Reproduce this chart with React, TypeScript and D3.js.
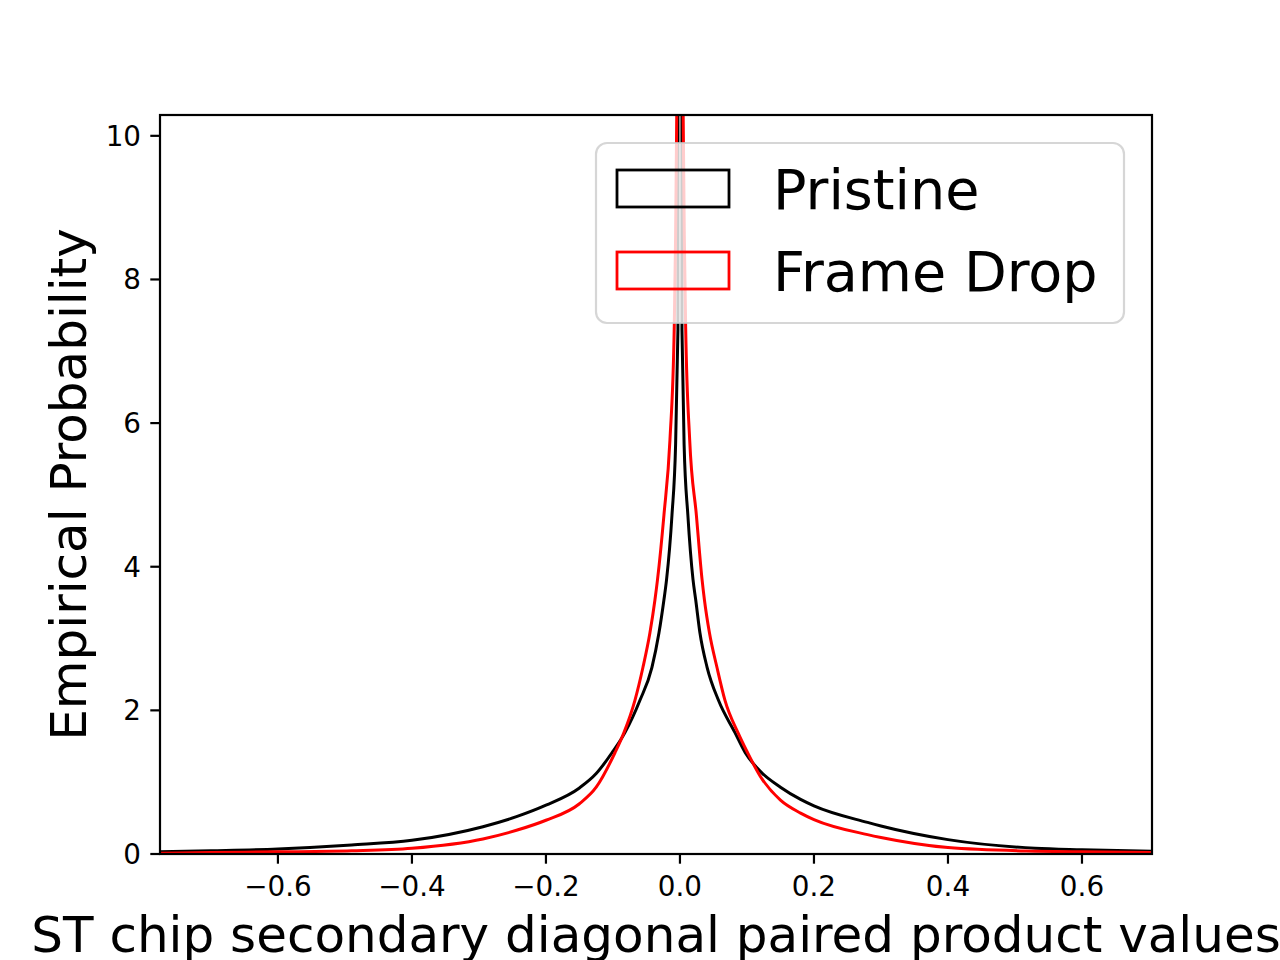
import React from "react";
import * as d3 from "d3";

// ---- Data ----
const xTicks = [-0.6, -0.4, -0.2, 0.0, 0.2, 0.4, 0.6];
const yTicks = [0, 2, 4, 6, 8, 10];
const xDomain = [-0.776, 0.7045];
const yDomain = [0, 10.29];

const seriesNames = ["Pristine", "Frame Drop"];

// Pristine outline (x, density)
const pristineX = [
  -0.776, -0.7, -0.6, -0.49, -0.4, -0.294, -0.244, -0.2, -0.15, -0.125, -0.1015,
  -0.0821, -0.0597, -0.0418, -0.0313, -0.0239, -0.02, -0.0119, -0.0065, -0.003,
  -0.003, 0.003, 0.003, 0.0062, 0.0118, 0.0195, 0.0235, 0.0298, 0.0405, 0.0575,
  0.0821, 0.0975, 0.12, 0.15, 0.18, 0.2, 0.28, 0.3, 0.4, 0.53, 0.6, 0.7045,
];
const pristineY = [
  0.03, 0.045, 0.07, 0.125, 0.19, 0.38, 0.52, 0.68, 0.92, 1.12, 1.41,
  1.69, 2.14, 2.6, 3.08, 3.54, 3.82, 4.72, 5.7, 7.3,
  13, 13, 7.3, 5.7, 4.72, 3.82, 3.54, 3.08, 2.6, 2.14,
  1.69, 1.41, 1.15, 0.93, 0.76, 0.67, 0.44, 0.39, 0.2, 0.08, 0.06, 0.04,
];

// Frame Drop outline (x, density)
const frameDropX = [
  -0.776, -0.7, -0.6, -0.49, -0.4, -0.294, -0.244, -0.2, -0.15, -0.125, -0.097,
  -0.0836, -0.0672, -0.0552, -0.0448, -0.0373, -0.0335, -0.0239, -0.0149, -0.0085,
  -0.0065, -0.0045, -0.0045, 0.0045, 0.0045, 0.0065, 0.0085, 0.0145, 0.0245, 0.033,
  0.0365, 0.044, 0.0552, 0.0672, 0.0866, 0.101, 0.12, 0.15, 0.18, 0.2, 0.28, 0.3,
  0.4, 0.53, 0.6, 0.7045,
];
const frameDropY = [
  0.01, 0.02, 0.03, 0.045, 0.08, 0.21, 0.33, 0.47, 0.7, 0.93, 1.41,
  1.69, 2.14, 2.6, 3.08, 3.54, 3.82, 4.72, 5.77, 7.34,
  8.6, 10.6, 13, 13, 10.6, 8.6, 7.34, 5.77, 4.72, 3.82,
  3.54, 3.08, 2.6, 2.14, 1.69, 1.41, 1.08, 0.75, 0.57, 0.48, 0.27, 0.23,
  0.09, 0.04, 0.03, 0.02,
];

const seriesColors = ["#000000", "#ff0000"];

const W = 1280;
const H = 960;
const M = { left: 160, right: 1152, top: 115, bottom: 854 };

const FONT = "'DejaVu Sans', sans-serif";

function outlinePath(
  pts: [number, number][],
  x: d3.ScaleLinear<number, number>,
  y: d3.ScaleLinear<number, number>
): string {
  // split into runs with strictly increasing x; join runs with straight (vertical) segments
  const runs: [number, number][][] = [];
  let cur: [number, number][] = [];
  pts.forEach((p, i) => {
    if (i > 0 && p[0] === pts[i - 1][0]) {
      runs.push(cur);
      cur = [];
    }
    cur.push(p);
  });
  runs.push(cur);
  const smooth = d3
    .line<[number, number]>()
    .x((d) => x(d[0]))
    .y((d) => y(d[1]))
    .curve(d3.curveMonotoneX);
  return runs
    .map((r, i) => {
      const s = smooth(r) || "";
      return i === 0 ? s : "L" + s.slice(1);
    })
    .join("");
}

export default function App() {
  const x = d3.scaleLinear().domain(xDomain).range([M.left, M.right]);
  const y = d3.scaleLinear().domain(yDomain).range([M.bottom, M.top]);

  const pristine: [number, number][] = pristineX.map((v, i) => [v, pristineY[i]]);
  const frameDrop: [number, number][] = frameDropX.map((v, i) => [v, frameDropY[i]]);
  const series = [pristine, frameDrop];

  const tickLen = 9.7;
  const tickFs = 27.8;
  const labelFs = 50;
  const legendFs = 55.6;

  // legend layout
  const lg = { x: 596, y: 143, w: 528, h: 180 };
  const handleX = 617;
  const handleW = 112;
  const handleH = 37;
  const rowCenters = [188.5, 270.5];

  return (
    <svg
      width={W}
      height={H}
      style={{ position: "absolute", left: 0, top: 0, background: "#fff" }}
      fontFamily={FONT}
    >
      <rect x={0} y={0} width={W} height={H} fill="#fff" />
      <defs>
        <clipPath id="plotClip">
          <rect x={M.left} y={M.top} width={M.right - M.left} height={M.bottom - M.top} />
        </clipPath>
      </defs>

      {/* histogram outlines */}
      <g clipPath="url(#plotClip)">
        {series.map((s, i) => (
          <path
            key={seriesNames[i]}
            d={outlinePath(s, x, y)}
            fill="none"
            stroke={seriesColors[i]}
            strokeWidth={3}
            strokeLinejoin="miter"
          />
        ))}
      </g>

      {/* spines */}
      <rect
        x={M.left}
        y={M.top}
        width={M.right - M.left}
        height={M.bottom - M.top}
        fill="none"
        stroke="#000"
        strokeWidth={2.2}
      />

      {/* x ticks */}
      {xTicks.map((t) => (
        <g key={"x" + t}>
          <line x1={x(t)} x2={x(t)} y1={M.bottom} y2={M.bottom + tickLen} stroke="#000" strokeWidth={2.2} />
          <text x={x(t)} y={896} textAnchor="middle" fontSize={tickFs} fill="#000">
            {d3.format(".1f")(t).replace("-", "\u2212")}
          </text>
        </g>
      ))}

      {/* y ticks */}
      {yTicks.map((t) => (
        <g key={"y" + t}>
          <line x1={M.left - tickLen} x2={M.left} y1={y(t)} y2={y(t)} stroke="#000" strokeWidth={2.2} />
          <text x={141} y={y(t) + 10} textAnchor="end" fontSize={tickFs} fill="#000">
            {String(t)}
          </text>
        </g>
      ))}

      {/* axis labels */}
      <text x={(M.left + M.right) / 2} y={952} textAnchor="middle" fontSize={labelFs} fill="#000">
        ST chip secondary diagonal paired product values
      </text>
      <text
        transform={`translate(86, ${(M.top + M.bottom) / 2}) rotate(-90)`}
        textAnchor="middle"
        fontSize={labelFs}
        fill="#000"
      >
        Empirical Probability
      </text>

      {/* legend */}
      <rect
        x={lg.x}
        y={lg.y}
        width={lg.w}
        height={lg.h}
        rx={11}
        ry={11}
        fill="#ffffff"
        fillOpacity={0.8}
        stroke="#cccccc"
        strokeOpacity={0.8}
        strokeWidth={2.2}
      />
      {seriesNames.map((name, i) => (
        <g key={"lg" + name}>
          <rect
            x={handleX}
            y={rowCenters[i] - handleH / 2}
            width={handleW}
            height={handleH}
            fill="none"
            stroke={seriesColors[i]}
            strokeWidth={2.8}
          />
          <text x={773} y={rowCenters[i] + 20} fontSize={legendFs} fill="#000">
            {name}
          </text>
        </g>
      ))}
    </svg>
  );
}
